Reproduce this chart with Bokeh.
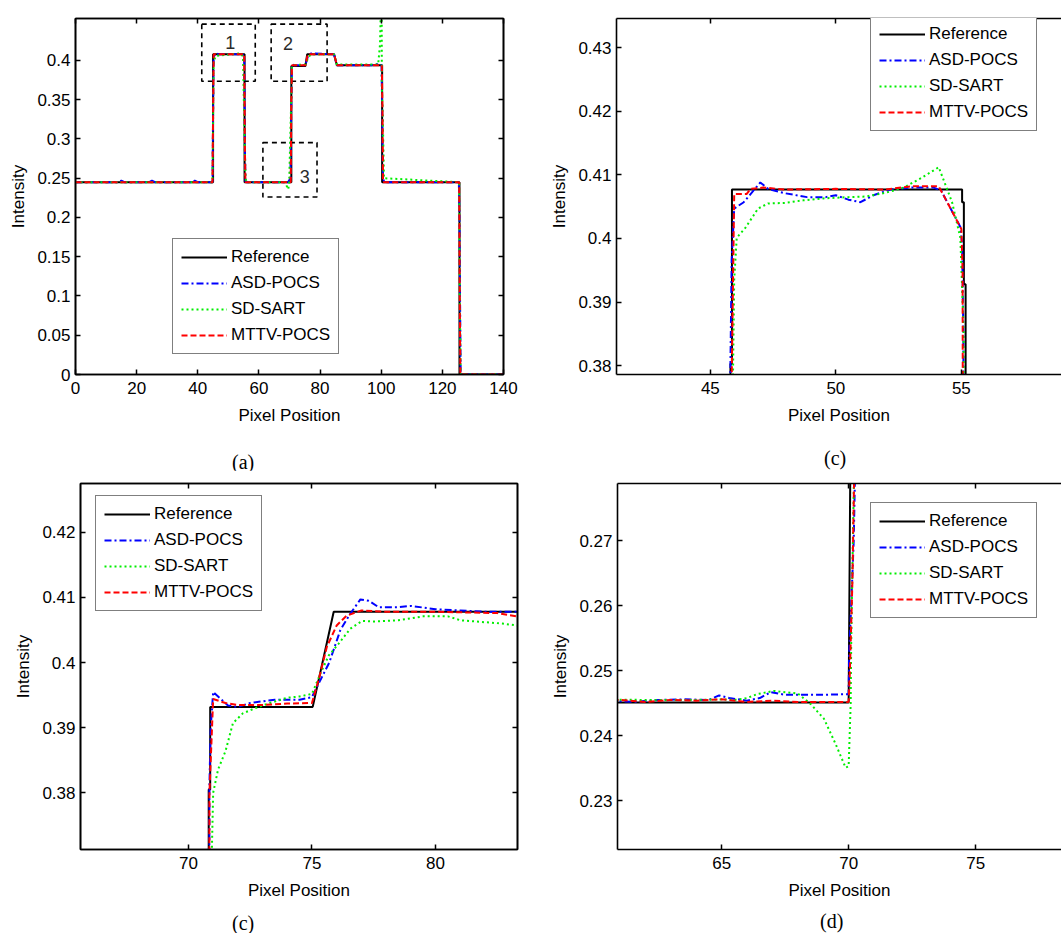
from bokeh.plotting import figure
from bokeh.models import (Range1d, FixedTicker, LinearAxis, CustomJSTickFormatter,
                          Legend, LegendItem, Div)
from bokeh.layouts import column, row
from bokeh.embed import file_html
from bokeh.resources import INLINE
from bokeh.core.properties import value

# ---------------- data ----------------
SERIES = ["Reference", "ASD-POCS", "SD-SART", "MTTV-POCS"]

# (a) full profile
a_ref_x = [0, 45.0, 45.0, 55.3, 55.3, 70.6, 70.6, 75.2, 75.8, 84.6, 85.5, 100.3, 100.3, 125.6, 125.6, 140]
a_ref_y = [0.245, 0.245, 0.408, 0.408, 0.245, 0.245, 0.393, 0.393, 0.408, 0.408, 0.394, 0.394, 0.245, 0.245, 0.0, 0.0]
a_asd_x = [0, 14, 15, 16, 24, 25, 26, 38, 39, 40, 44.8, 45.0, 45.2, 46.0, 47.0, 54.5, 55.2, 55.4, 55.6, 56.0,
           69.5, 70.3, 70.6, 70.8, 71.5, 75.2, 76.0, 77.0, 84.5, 85.5, 97.0, 98.0, 100.1, 100.3, 100.6, 101.0,
           125.4, 125.6, 125.8, 126.0, 140]
a_asd_y = [0.245, 0.245, 0.247, 0.245, 0.245, 0.247, 0.245, 0.245, 0.247, 0.245, 0.245, 0.33, 0.405, 0.409, 0.408,
           0.408, 0.405, 0.29, 0.246, 0.245, 0.245, 0.25, 0.35, 0.395, 0.394, 0.394, 0.405, 0.409, 0.408, 0.394,
           0.394, 0.396, 0.394, 0.34, 0.25, 0.245, 0.245, 0.2, 0.09, 0.0, 0.0]
a_sd_x = [0, 44.8, 45.0, 45.2, 46.0, 54.0, 54.8, 55.3, 55.6, 56.0, 68.5, 69.6, 69.9, 70.5, 70.8, 71.5, 75.2, 76.2,
          77.0, 84.5, 85.5, 99.0, 99.6, 99.9, 100.1, 100.2, 100.5, 100.9, 125.5, 125.7, 126.0, 140]
a_sd_y = [0.245, 0.245, 0.32, 0.4, 0.406, 0.409, 0.405, 0.3, 0.25, 0.245, 0.245, 0.236, 0.245, 0.34, 0.393, 0.394,
          0.395, 0.404, 0.408, 0.408, 0.395, 0.395, 0.42, 0.47, 0.6, 0.37, 0.33, 0.25, 0.245, 0.1, 0.0, 0.0]
a_mt_x = [0, 44.8, 45.0, 45.2, 55.2, 55.4, 55.6, 70.4, 70.6, 70.8, 75.2, 76.0, 84.6, 85.5, 100.2, 100.4, 100.6,
          125.5, 125.7, 125.9, 140]
a_mt_y = [0.245, 0.245, 0.33, 0.408, 0.408, 0.29, 0.245, 0.245, 0.35, 0.394, 0.394, 0.408, 0.408, 0.394, 0.394,
          0.34, 0.245, 0.245, 0.09, 0.0, 0.0]

# zoom regions marked in (a)
region_labels = ["1", "2", "3"]
region_x0 = [41.3, 64.0, 61.3]
region_x1 = [58.8, 82.3, 79.0]
region_y0 = [0.3736, 0.3736, 0.2261]
region_y1 = [0.4463, 0.4463, 0.2954]
region_label_x = [50.6, 69.5, 75.0]
region_label_y = [0.4235, 0.4215, 0.2516]

# (c) top-right: region 1
c1_ref_x = [41.0, 45.80, 45.80, 45.86, 45.86, 55.03, 55.03, 55.10, 55.10, 55.17, 55.17, 59.5]
c1_ref_y = [0.245, 0.245, 0.3803, 0.3803, 0.4077, 0.4077, 0.4057, 0.4057, 0.3928, 0.3928, 0.245, 0.245]
c1_asd_x = [41.0, 45.75, 45.80, 45.85, 45.95, 46.33, 46.99, 47.3, 47.99, 48.85, 49.6, 50.0, 50.5, 50.98, 51.5,
            52.17, 53.0, 53.9, 54.2, 54.96, 55.03, 55.08, 55.12, 59.5]
c1_asd_y = [0.245, 0.245, 0.3805, 0.3966, 0.4047, 0.4057, 0.4088, 0.4078, 0.4071, 0.4065, 0.4065, 0.4068, 0.4061,
            0.4057, 0.4068, 0.4077, 0.4080, 0.4080, 0.4075, 0.4018, 0.3990, 0.3850, 0.245, 0.245]
c1_sd_x = [41.0, 45.85, 45.90, 45.95, 46.05, 46.4, 46.9, 47.3, 48.0, 48.7, 49.5, 50.5, 51.2, 52.0, 52.7, 53.4,
           54.1, 54.63, 54.96, 55.09, 55.15, 59.5]
c1_sd_y = [0.245, 0.245, 0.3780, 0.3935, 0.4001, 0.4017, 0.4047, 0.4055, 0.4056, 0.4060, 0.4063, 0.4065, 0.4066,
           0.4072, 0.4080, 0.4095, 0.4112, 0.4057, 0.4001, 0.3854, 0.245, 0.245]
c1_mt_x = [41.0, 45.80, 45.85, 45.95, 46.45, 46.6, 47.1, 48.0, 50.0, 52.0, 53.0, 54.1, 55.0, 55.05, 55.1, 59.5]
c1_mt_y = [0.245, 0.245, 0.3780, 0.4070, 0.4070, 0.4078, 0.4080, 0.4077, 0.4078, 0.4077, 0.4082, 0.4082, 0.4015,
           0.3950, 0.245, 0.245]

# (c) bottom-left: region 2
c2_ref_x = [65.0, 70.82, 70.82, 70.88, 70.88, 75.03, 75.88, 84.0]
c2_ref_y = [0.245, 0.245, 0.3805, 0.3805, 0.3932, 0.3932, 0.4078, 0.4078]
c2_asd_x = [65.0, 70.80, 70.85, 70.90, 71.0, 71.2, 71.6, 72.0, 72.5, 73.5, 74.5, 75.0, 75.3, 75.7, 76.15, 76.55,
            76.96, 77.3, 77.7, 78.5, 79.0, 80.0, 81.0, 82.0, 84.0]
c2_asd_y = [0.245, 0.245, 0.3813, 0.3900, 0.3955, 0.3948, 0.3934, 0.3932, 0.3938, 0.3943, 0.3943, 0.3947, 0.3970,
            0.4000, 0.4050, 0.4075, 0.4097, 0.4095, 0.4085, 0.4085, 0.4087, 0.4082, 0.4080, 0.4078, 0.4078]
c2_sd_x = [65.0, 70.90, 70.95, 71.0, 71.2, 71.5, 71.8, 72.2, 72.7, 73.3, 74.0, 74.5, 75.0, 75.34, 75.68, 76.08,
           76.55, 77.03, 77.5, 78.5, 79.5, 80.5, 81.0, 82.0, 82.7, 83.3, 84.0]
c2_sd_y = [0.245, 0.245, 0.3715, 0.3800, 0.3836, 0.3864, 0.3907, 0.3922, 0.3930, 0.3938, 0.3946, 0.3948, 0.3952,
           0.3983, 0.4011, 0.4029, 0.4052, 0.4064, 0.4063, 0.4065, 0.4071, 0.4071, 0.4065, 0.4062, 0.4060, 0.4057,
           0.4055]
c2_mt_x = [65.0, 70.80, 70.85, 71.0, 71.5, 72.0, 73.0, 74.0, 75.0, 75.3, 75.6, 76.0, 76.4, 77.0, 78.0, 80.0, 82.5,
           83.3, 84.0]
c2_mt_y = [0.245, 0.245, 0.3800, 0.3944, 0.3938, 0.3935, 0.3935, 0.3937, 0.3938, 0.3978, 0.4024, 0.4057, 0.4072,
           0.4080, 0.4078, 0.4078, 0.4076, 0.4071, 0.4070]

# (d) bottom-right: region 3
d_ref_x = [60.0, 70.0, 70.1]
d_ref_y = [0.2451, 0.2451, 0.30]
d_asd_x = [60.0, 61.5, 62.5, 63.5, 64.5, 64.9, 65.3, 66.0, 66.5, 66.93, 67.5, 68.0, 69.0, 70.0, 70.02, 70.1,
           70.2, 70.35]
d_asd_y = [0.2455, 0.2452, 0.2455, 0.2456, 0.2455, 0.2462, 0.2458, 0.2454, 0.2458, 0.2467, 0.2463, 0.2463, 0.2463,
           0.2464, 0.2526, 0.2600, 0.2700, 0.3000]
d_sd_x = [60.0, 62.0, 63.0, 64.0, 65.0, 65.5, 66.0, 66.4, 67.06, 67.5, 68.0, 68.5, 69.03, 69.49, 69.88, 70.0,
          70.08, 70.1, 70.14, 70.3]
d_sd_y = [0.2456, 0.2455, 0.2455, 0.2455, 0.2456, 0.2455, 0.2458, 0.2464, 0.2469, 0.2467, 0.2465, 0.2449, 0.2426,
          0.2387, 0.2351, 0.2353, 0.2449, 0.2540, 0.2638, 0.3000]
d_mt_x = [60.0, 61.0, 62.0, 63.0, 64.0, 65.0, 66.0, 67.0, 68.0, 69.0, 70.0, 70.05, 70.15, 70.3]
d_mt_y = [0.2455, 0.2455, 0.2452, 0.2455, 0.2454, 0.2456, 0.2452, 0.2454, 0.2452, 0.2452, 0.2452, 0.2500, 0.2640,
          0.3000]

# ticks
a_xticks = [0, 20, 40, 60, 80, 100, 120, 140]
a_yticks = [0, 0.05, 0.1, 0.15, 0.2, 0.25, 0.3, 0.35, 0.4]
c1_xticks = [45, 50, 55]
c1_yticks = [0.38, 0.39, 0.40, 0.41, 0.42, 0.43]
c2_xticks = [70, 75, 80]
c2_yticks = [0.38, 0.39, 0.40, 0.41, 0.42]
d_xticks = [65, 70, 75]
d_yticks = [0.23, 0.24, 0.25, 0.26, 0.27]

captions = ["(a)", "(c)", "(c)", "(d)"]

# ---------------- style ----------------
COLORS = ["#000000", "#0000ff", "#00ee00", "#ff0000"]
DASHES = ["solid", "7 3 2 3", "2 3", "6 3"]
FONT = "Liberation Sans"
FMT = "return String(Math.round(tick*1000)/1000);"


def style_axis(ax, ticks, labels=True):
    ax.ticker = FixedTicker(ticks=ticks)
    ax.formatter = CustomJSTickFormatter(code=FMT)
    ax.major_tick_in = 5
    ax.major_tick_out = 0
    ax.minor_tick_in = 0
    ax.minor_tick_out = 0
    ax.axis_line_width = 1.6
    ax.axis_line_color = "black"
    ax.major_tick_line_width = 1.5
    ax.major_tick_line_color = "black"
    if labels:
        ax.major_label_text_font = FONT
        ax.major_label_text_font_size = "17px"
        ax.major_label_text_color = "black"
        ax.major_label_standoff = 7
    else:
        ax.major_label_text_font_size = "1px"
        ax.major_label_text_color = None
        ax.major_label_standoff = 0


def make_panel(w, h, xr, yr, xt, yt, borders, right_frame):
    p = figure(width=w, height=h, x_range=Range1d(*xr), y_range=Range1d(*yr),
               output_backend="svg", toolbar_location=None,
               min_border_left=borders[0], min_border_right=borders[1],
               min_border_top=borders[2], min_border_bottom=borders[3])
    p.grid.visible = False
    p.background_fill_color = "white"
    p.border_fill_color = "white"
    style_axis(p.xaxis[0], xt)
    style_axis(p.yaxis[0], yt)
    p.yaxis[0].major_label_standoff = 5
    p.xaxis[0].axis_label = "Pixel Position"
    p.yaxis[0].axis_label = "Intensity"
    for ax in (p.xaxis[0], p.yaxis[0]):
        ax.axis_label_text_font = FONT
        ax.axis_label_text_font_size = "17px"
        ax.axis_label_text_font_style = "normal"
        ax.axis_label_text_color = "black"
    p.xaxis[0].axis_label_standoff = 9
    p.yaxis[0].axis_label_standoff = 6
    top = LinearAxis()
    style_axis(top, xt, labels=False)
    p.add_layout(top, "above")
    if right_frame:
        rt = LinearAxis()
        style_axis(rt, yt, labels=False)
        p.add_layout(rt, "right")
        p.outline_line_color = "black"
        p.outline_line_width = 1.6
    else:
        p.outline_line_color = None
    return p


def draw_series(p, xs, ys, loc):
    items = []
    for name, x, y, c, d in zip(SERIES, xs, ys, COLORS, DASHES):
        r = p.line(x, y, line_color=c, line_dash=d, line_width=2)
        items.append(LegendItem(label=name, renderers=[r]))
    lg = Legend(items=items, location=loc)
    lg.border_line_color = "black"
    lg.border_line_width = 1.6
    lg.background_fill_color = "white"
    lg.background_fill_alpha = 1.0
    lg.label_text_font = FONT
    lg.label_text_font_size = "17px"
    lg.label_text_color = "black"
    lg.glyph_width = 46
    lg.glyph_height = 20
    lg.label_height = 20
    lg.label_standoff = 4
    lg.spacing = 6
    lg.padding = 8
    lg.margin = 0
    p.add_layout(lg)


def caption_div(text, w, h, left, top):
    html = ('<div style="margin:0;padding-left:%dpx;padding-top:%dpx;'
            'font-family:\'Liberation Serif\',serif;font-size:20px;line-height:16px;color:black;">%s</div>'
            % (left, top, text))
    return Div(text=html, width=w, height=h, margin=0)


# (a)
pa = make_panel(530, 444, (0, 140), (0, 0.4535), a_xticks, a_yticks, (75, 27, 18, 70), True)
pa.quad(left=region_x0, right=region_x1, bottom=region_y0, top=region_y1,
        fill_color=None, line_color="black", line_dash="5 4", line_width=1.6)
pa.text(x=region_label_x, y=region_label_y, text=region_labels,
        text_font=value(FONT), text_font_size="18px", text_color="#2a2a2a",
        text_align="center", text_baseline="middle")
draw_series(pa, [a_ref_x, a_asd_x, a_sd_x, a_mt_x], [a_ref_y, a_asd_y, a_sd_y, a_mt_y], (97, 20))

# (c) top-right
pc1 = make_panel(531, 444, (41.26, 58.99), (0.3786, 0.4346), c1_xticks, c1_yticks, (86, 0, 7, 69), False)
draw_series(pc1, [c1_ref_x, c1_asd_x, c1_sd_x, c1_mt_x], [c1_ref_y, c1_asd_y, c1_sd_y, c1_mt_y], (254, 243))

# (c) bottom-left
pc2 = make_panel(530, 440, (65.63, 83.32), (0.3713, 0.4275), c2_xticks, c2_yticks, (80, 13, 13, 60), True)
draw_series(pc2, [c2_ref_x, c2_asd_x, c2_sd_x, c2_mt_x], [c2_ref_y, c2_asd_y, c2_sd_y, c2_mt_y], (15, 238))

# (d) bottom-right
pd_ = make_panel(531, 440, (60.9, 78.38), (0.2225, 0.2788), d_xticks, d_yticks, (87, 0, 13, 61), False)
draw_series(pd_, [d_ref_x, d_asd_x, d_sd_x, d_mt_x], [d_ref_y, d_asd_y, d_sd_y, d_mt_y], (253, 231))

cap_top = row(caption_div(captions[0], 530, 26, 232, 10), caption_div(captions[1], 531, 26, 294, 6))
cap_bot = row(caption_div(captions[2], 530, 22, 232, 5), caption_div(captions[3], 531, 22, 290, 3))

layout = column(row(pa, pc1), cap_top, row(pc2, pd_), cap_bot)
open("out.html", "w").write(file_html(layout, INLINE))
